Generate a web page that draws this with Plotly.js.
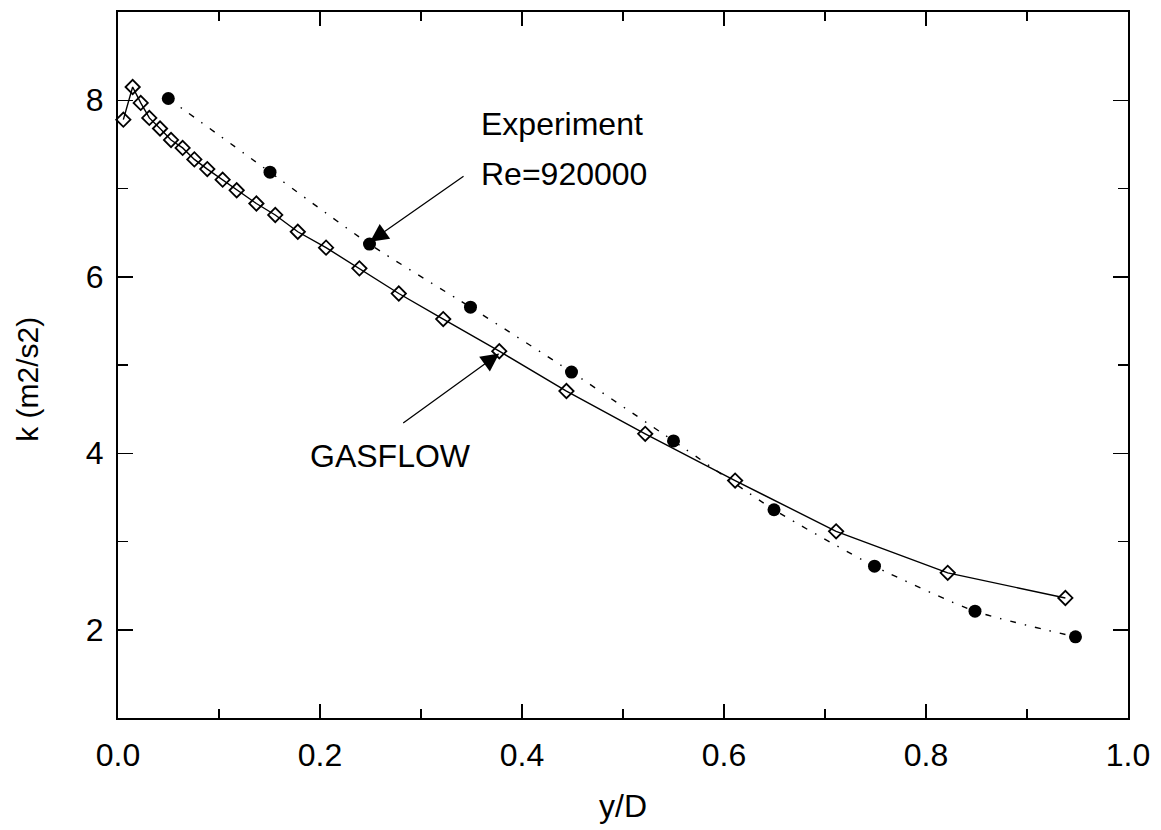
<!DOCTYPE html>
<html>
<head>
<meta charset="utf-8">
<script src="https://cdn.plot.ly/plotly-3.0.1.min.js"></script>
<style>html,body{margin:0;padding:0;background:#fff;}#chart{width:1161px;height:830px;}</style>
</head>
<body>
<div id="chart"></div>
<script>
// GASFLOW simulation (open diamonds, solid line)
const gasflowX = [0.0053, 0.0145, 0.0225, 0.031, 0.0416, 0.0525, 0.064, 0.0756, 0.0884, 0.1036, 0.1175, 0.137, 0.1557, 0.178, 0.206, 0.239, 0.278, 0.322, 0.3775, 0.444, 0.522, 0.611, 0.711, 0.8215, 0.938];
const gasflowK = [7.78, 8.15, 7.97, 7.80, 7.68, 7.55, 7.46, 7.33, 7.22, 7.10, 6.98, 6.83, 6.70, 6.51, 6.33, 6.095, 5.81, 5.52, 5.156, 4.705, 4.22, 3.69, 3.115, 2.645, 2.36];
// Experiment Re=920000 (filled circles, dash-dot line)
const expX = [0.0498, 0.1505, 0.249, 0.349, 0.449, 0.55, 0.6495, 0.749, 0.8485, 0.948];
const expK = [8.02, 7.185, 6.37, 5.655, 4.92, 4.14, 3.36, 2.72, 2.21, 1.92];

const FONT = 'Liberation Sans, Arial, Helvetica, sans-serif';

const traces = [
  {
    x: expX, y: expK, type: 'scatter', mode: 'lines+markers', name: 'Experiment',
    line: {color: '#000', width: 1.4, dash: '6px,9px,1.5px,9px', shape: 'spline', smoothing: 0.6},
    marker: {symbol: 'circle', size: 13, color: '#000'},
    cliponaxis: false
  },
  {
    x: gasflowX, y: gasflowK, type: 'scatter', mode: 'lines+markers', name: 'GASFLOW',
    line: {color: '#000', width: 1.4},
    marker: {symbol: 'diamond-open', size: 11, color: '#000', line: {width: 1.8, color: '#000'}},
    cliponaxis: false
  }
];

const layout = {
  width: 1161, height: 830,
  paper_bgcolor: '#fff', plot_bgcolor: '#fff',
  showlegend: false,
  margin: {l: 118, r: 33, t: 12, b: 112},
  font: {family: FONT, size: 32, color: '#000'},
  xaxis: {
    range: [0, 1], dtick: 0.2, tick0: 0, tickformat: '.1f',
    ticks: 'inside', ticklen: 14, tickwidth: 1.5, tickcolor: '#000',
    minor: {dtick: 0.1, ticks: 'inside', ticklen: 9, tickwidth: 1.5, tickcolor: '#000'},
    showline: true, linewidth: 2, linecolor: '#000', mirror: 'ticks',
    showgrid: false, zeroline: false,
    tickfont: {size: 32, family: FONT},
    ticklabelstandoff: 8,
    title: {text: 'y/D', font: {size: 32, family: FONT}, standoff: 22}
  },
  yaxis: {
    range: [1, 9], dtick: 2, tick0: 0,
    ticks: 'inside', ticklen: 15, tickwidth: 1.5, tickcolor: '#000',
    minor: {dtick: 1, ticks: 'inside', ticklen: 10, tickwidth: 1.5, tickcolor: '#000'},
    showline: true, linewidth: 2, linecolor: '#000', mirror: 'ticks',
    showgrid: false, zeroline: false,
    tickfont: {size: 32, family: FONT},
    ticklabelstandoff: 6
  },
  annotations: [
    {x: -0.0891, y: 0.479, xref: 'paper', yref: 'paper', xanchor: 'center', yanchor: 'middle',
     textangle: -90, showarrow: false, text: 'k (m2/s2)', font: {size: 30, family: FONT, color: '#000'}},
    {x: 0.2495, y: 6.396, ax: 0.3436, ay: 7.15, axref: 'x', ayref: 'y', xref: 'x', yref: 'y',
     text: '', showarrow: true, arrowhead: 2, arrowsize: 2.8, arrowwidth: 1.3, arrowcolor: '#000', standoff: 0, startstandoff: 0},
    {x: 0.3775, y: 5.13, ax: 0.2809, ay: 4.33, axref: 'x', ayref: 'y', xref: 'x', yref: 'y',
     text: '', showarrow: true, arrowhead: 2, arrowsize: 2.8, arrowwidth: 1.3, arrowcolor: '#000', standoff: 0, startstandoff: 0},
    {x: 0.3574, y: 7.73, xref: 'x', yref: 'y', xanchor: 'left', yanchor: 'middle', showarrow: false,
     text: 'Experiment', font: {size: 32, family: FONT, color: '#000'}},
    {x: 0.3574, y: 7.16, xref: 'x', yref: 'y', xanchor: 'left', yanchor: 'middle', showarrow: false,
     text: 'Re=920000', font: {size: 32, family: FONT, color: '#000'}},
    {x: 0.1881, y: 3.97, xref: 'x', yref: 'y', xanchor: 'left', yanchor: 'middle', showarrow: false,
     text: 'GASFLOW', font: {size: 32, family: FONT, color: '#000'}}
  ]
};

Plotly.newPlot('chart', traces, layout, {staticPlot: true, displayModeBar: false});
</script>
</body>
</html>
